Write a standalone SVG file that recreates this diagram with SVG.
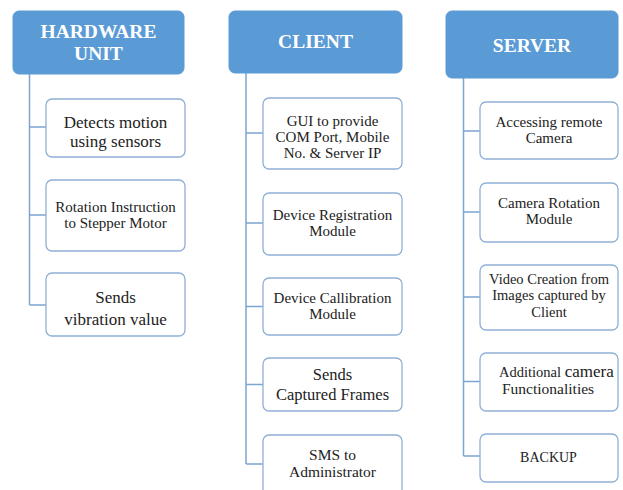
<svg xmlns="http://www.w3.org/2000/svg" width="623" height="490" viewBox="0 0 623 490" font-family="Liberation Serif, DejaVu Serif, serif">
<style>
.hdr{fill:#5B9BD5;stroke:#5B9BD5;stroke-width:1}
.box{fill:#ffffff;stroke:#8FB0D6;stroke-width:1.3}
.ht{font-weight:bold;font-size:19.5px;fill:#ffffff;text-anchor:middle}
.t{fill:#222222;text-anchor:middle}
.ts{text-anchor:start}
.conn{fill:none;stroke:#7EA4D2;stroke-width:1.5}
</style>
<rect width="623" height="490" fill="#ffffff"/>
<g id="connectors">
<path class="conn" d="M29.5,74 V305 M29.5,127 H46 M29.5,215 H46 M29.5,305 H46"/>
<path class="conn" d="M246,73 V464 M246,133 H263 M246,223 H263 M246,306.5 H263 M246,384.5 H263 M246,464 H263"/>
<path class="conn" d="M463.5,78 V456 M463.5,131 H480 M463.5,212 H480 M463.5,297 H480 M463.5,381.5 H480 M463.5,456 H480"/>
</g>
<g id="hardware">
<rect class="hdr" x="13" y="11" width="171" height="63" rx="6"/>
<text class="ht" font-family="Liberation Serif, serif" x="98.5" y="38">HARDWARE</text>
<text class="ht" font-family="Liberation Serif, serif" x="98.5" y="60">UNIT</text>
</g>
<g id="hw1">
<rect class="box" x="46" y="99" width="139" height="58" rx="6"/>
<text class="t" font-family="Liberation Serif, serif" font-size="17" x="115.5" y="128">Detects motion</text>
<text class="t" font-family="Liberation Serif, serif" font-size="17" x="115.5" y="147">using sensors</text>
</g>
<g id="hw2">
<rect class="box" x="46" y="180" width="139" height="71" rx="6"/>
<text class="t" font-family="Liberation Serif, serif" font-size="15" x="115.5" y="212">Rotation Instruction</text>
<text class="t" font-family="Liberation Serif, serif" font-size="15" x="115.5" y="228">to Stepper Motor</text>
</g>
<g id="hw3">
<rect class="box" x="46" y="273" width="139" height="63" rx="6"/>
<text class="t" font-family="Liberation Serif, serif" font-size="17" x="115.5" y="303">Sends</text>
<text class="t" font-family="Liberation Serif, serif" font-size="17" x="115.5" y="325">vibration value</text>
</g>
<g id="client">
<rect class="hdr" x="229" y="11" width="173" height="62" rx="6"/>
<text class="ht" font-family="Liberation Serif, serif" x="315.5" y="48">CLIENT</text>
</g>
<g id="cl1">
<rect class="box" x="263" y="98" width="139" height="71" rx="6"/>
<text class="t" font-family="Liberation Serif, serif" font-size="15" x="332.5" y="126">GUI to provide</text>
<text class="t" font-family="Liberation Serif, serif" font-size="15" x="332.5" y="142">COM Port, Mobile</text>
<text class="t" font-family="Liberation Serif, serif" font-size="15" x="332.5" y="158">No. &amp; Server IP</text>
</g>
<g id="cl2">
<rect class="box" x="263" y="193" width="139" height="62" rx="6"/>
<text class="t" font-family="Liberation Serif, serif" font-size="15" x="332.5" y="220">Device Registration</text>
<text class="t" font-family="Liberation Serif, serif" font-size="15" x="332.5" y="236">Module</text>
</g>
<g id="cl3">
<rect class="box" x="263" y="278" width="139" height="57" rx="6"/>
<text class="t" font-family="Liberation Serif, serif" font-size="15" x="332.5" y="302.5">Device Callibration</text>
<text class="t" font-family="Liberation Serif, serif" font-size="15" x="332.5" y="318.5">Module</text>
</g>
<g id="cl4">
<rect class="box" x="263" y="358" width="139" height="53" rx="6"/>
<text class="t" font-family="Liberation Serif, serif" font-size="16.5" x="332.5" y="380">Sends</text>
<text class="t" font-family="Liberation Serif, serif" font-size="16.5" x="332.5" y="400">Captured Frames</text>
</g>
<g id="cl5">
<rect class="box" x="263" y="435" width="139" height="62" rx="6"/>
<text class="t" font-family="Liberation Serif, serif" font-size="15.5" x="332.5" y="460">SMS to</text>
<text class="t" font-family="Liberation Serif, serif" font-size="15.5" x="332.5" y="476.5">Administrator</text>
</g>
<g id="server">
<rect class="hdr" x="446" y="11" width="172" height="67" rx="6"/>
<text class="ht" font-family="Liberation Serif, serif" x="532" y="51.5">SERVER</text>
</g>
<g id="sv1">
<rect class="box" x="480" y="102" width="138" height="57" rx="6"/>
<text class="t" font-family="Liberation Serif, serif" font-size="15" x="549" y="126.5">Accessing remote</text>
<text class="t" font-family="Liberation Serif, serif" font-size="15" x="549" y="143">Camera</text>
</g>
<g id="sv2">
<rect class="box" x="480" y="183" width="138" height="59" rx="6"/>
<text class="t" font-family="Liberation Serif, serif" font-size="15" x="549" y="207.5">Camera Rotation</text>
<text class="t" font-family="Liberation Serif, serif" font-size="15" x="549" y="224">Module</text>
</g>
<g id="sv3">
<rect class="box" x="480" y="265" width="138" height="65" rx="6"/>
<text class="t" font-family="Liberation Serif, serif" font-size="14.5" x="549" y="283.5">Video Creation from</text>
<text class="t" font-family="Liberation Serif, serif" font-size="14.5" x="549" y="300">Images captured by</text>
<text class="t" font-family="Liberation Serif, serif" font-size="14.5" x="549" y="316.5">Client</text>
</g>
<g id="sv4">
<rect class="box" x="480" y="353" width="138" height="58" rx="6"/>
<text class="t ts" font-family="Liberation Serif, serif" font-size="14.5" x="499" y="376.5">Additional <tspan font-size="17">camera</tspan></text>
<text class="t ts" font-family="Liberation Serif, serif" font-size="15.5" x="502" y="393.5">Functionalities</text>
</g>
<g id="sv5">
<rect class="box" x="480" y="434" width="138" height="48" rx="6"/>
<text class="t" font-family="Liberation Serif, serif" font-size="14" x="548.5" y="462">BACKUP</text>
</g>
</svg>
